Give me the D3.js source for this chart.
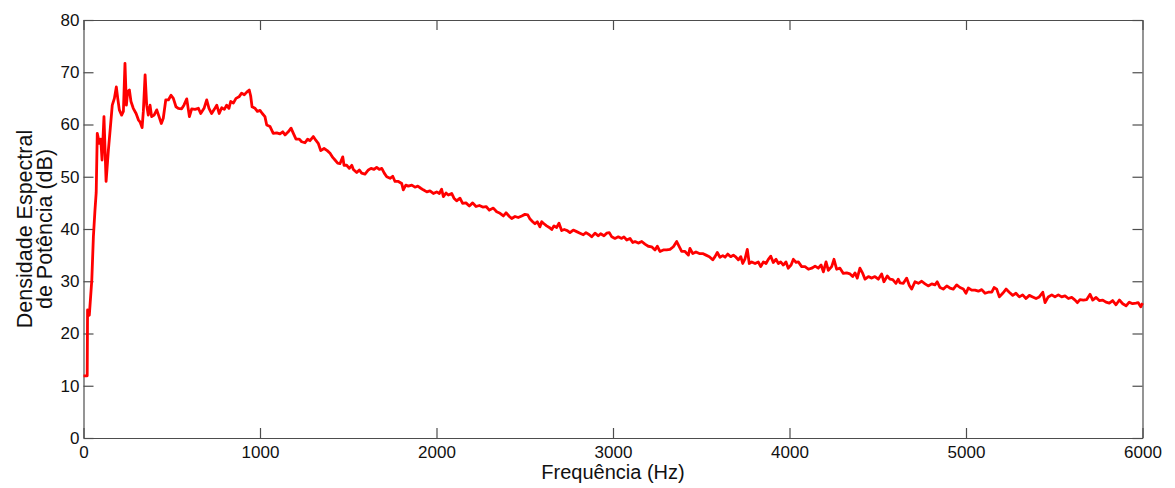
<!DOCTYPE html>
<html>
<head>
<meta charset="utf-8">
<script src="https://cdn.jsdelivr.net/npm/d3@7"></script>
<style>
  html, body { margin: 0; padding: 0; background: #fff; }
  svg { display: block; font-family: "Liberation Sans", Arial, sans-serif; }
</style>
</head>
<body>
<svg id="chart" width="1175" height="488"></svg>
<script>
// ---- data ----
const freqHz = [
  0, 21, 23, 33, 47, 56, 65, 72,
  78, 90, 98, 105, 116, 128, 141, 150, 163, 175, 186, 194, 203, 216, 226, 235, 243, 250, 260, 269, 282, 298,
  311, 320, 332, 339, 349, 358, 367, 377, 386, 400, 415, 428, 441, 452, 466, 481, 496, 509, 524, 537, 556,
  569, 585, 600, 613, 632, 651, 664, 683, 698, 711, 726, 741, 755, 769, 783, 798, 811, 824, 834, 849, 864,
  881, 896, 911, 925, 939, 947, 955, 972, 985, 1000, 1013, 1028, 1038,
  1057, 1075, 1095, 1113, 1129, 1142, 1160, 1176, 1189, 1204, 1223, 1236, 1255, 1270, 1283, 1302, 1316,
  1330, 1344, 1363, 1381, 1397, 1412, 1425, 1440, 1453, 1469, 1476, 1491, 1506, 1520, 1529, 1548, 1563,
  1576, 1595, 1614, 1629, 1646, 1661, 1676, 1690, 1704, 1718, 1737, 1752, 1765, 1784, 1803, 1812, 1826,
  1840, 1860, 1878, 1894, 1911, 1925, 1945, 1963, 1982, 2001, 2016, 2029, 2039, 2054, 2067, 2086, 2099,
  2114, 2133, 2148, 2167, 2186, 2205, 2224, 2243, 2262, 2281, 2299,
  2303, 2322, 2341, 2360, 2379, 2394, 2413, 2426, 2445, 2463, 2483, 2501, 2517, 2530, 2545, 2558, 2571,
  2586, 2596, 2609, 2624, 2639, 2653, 2666, 2681, 2694, 2709, 2724, 2741, 2756, 2775, 2794, 2813, 2832,
  2847, 2866, 2879, 2898, 2917, 2930, 2949, 2964, 2979, 2993, 3011, 3030, 3049, 3062, 3078, 3096, 3112,
  3125, 3143, 3163, 3181, 3200, 3219, 3238, 3251, 3266, 3285, 3304, 3323, 3342, 3361, 3376, 3389, 3408, 3427,
  3436, 3452, 3470, 3489, 3508, 3527, 3546, 3565, 3578, 3591, 3606, 3622, 3635, 3650, 3667, 3682, 3697,
  3710, 3724, 3735, 3748, 3761, 3772, 3786, 3805, 3823, 3837, 3852, 3867, 3880, 3894, 3908, 3924, 3937,
  3950, 3965, 3980, 3993, 4009, 4022, 4037, 4050, 4069, 4088, 4107, 4126, 4145, 4163, 4179, 4192, 4207,
  4220, 4239, 4252, 4267, 4286, 4305, 4324, 4343, 4358, 4371, 4384, 4399, 4415, 4428, 4447, 4466, 4484,
  4503, 4522, 4535, 4554, 4569, 4585, 4603, 4616,
  4626, 4645, 4664, 4679, 4692, 4711, 4730, 4749, 4768, 4786, 4806, 4824, 4837, 4853, 4871, 4891, 4909,
  4928, 4947, 4966, 4985, 5000, 5013, 5032, 5051, 5070, 5089, 5108, 5126, 5146, 5159, 5174, 5189, 5208,
  5227, 5245, 5265, 5283, 5302, 5321, 5340, 5359, 5378, 5397, 5415, 5435, 5448, 5466, 5486, 5504, 5523,
  5542, 5561, 5580, 5599, 5618, 5631, 5646, 5665, 5684, 5703, 5718, 5737, 5755, 5775, 5793, 5812, 5831,
  5850, 5869, 5888, 5907, 5925, 5944, 5963, 5976, 5990, 6000
];
const psdDb = [
  11.9, 11.9, 24.5, 23.5, 30.2, 38.5, 43.6, 47.0,
  58.3, 56.4, 57.2, 53.2, 61.5, 49.1, 55.1, 58.6, 63.7, 65.0, 67.2, 65.0, 62.8, 61.8, 62.5, 71.7, 63.7, 66.3, 66.6, 64.4, 63.1, 62.1,
  60.9, 60.5, 59.4, 62.5, 69.5, 63.7, 61.8, 63.7, 61.5, 61.8, 62.8, 61.5, 60.2, 61.2, 64.7, 64.7, 65.6, 65.0, 63.4, 63.1, 63.0,
  63.7, 64.9, 61.5, 63.0, 62.9, 63.1, 62.1, 63.1, 64.7, 63.1, 62.1, 62.9, 63.7, 62.1, 63.2, 62.9, 63.7, 63.1, 64.4, 64.1, 65.0,
  65.3, 66.0, 65.7, 66.2, 66.6, 65.5, 63.4, 63.1, 62.5, 62.7, 62.1, 61.5, 59.9,
  59.6, 58.3, 58.4, 58.2, 58.6, 58.0, 58.6, 59.3, 58.3, 57.2, 57.2, 56.7, 56.5, 57.2, 56.9, 57.7, 57.0,
  56.4, 55.0, 55.4, 55.0, 54.5, 53.7, 53.2, 52.6, 52.5, 53.8, 52.2, 52.2, 51.6, 52.2, 51.4, 50.8, 51.3,
  50.7, 50.5, 51.3, 51.6, 51.4, 51.8, 51.4, 51.6, 50.7, 50.0, 49.7, 50.1, 49.1, 49.1, 48.7, 47.5, 48.4,
  48.2, 48.4, 48.0, 48.2, 47.8, 47.5, 47.1, 47.3, 46.8, 47.1, 46.8, 47.6, 46.2, 46.9, 46.5, 46.8, 45.9,
  45.4, 45.9, 44.9, 45.0, 44.4, 45.0, 44.3, 44.5, 44.2, 44.3, 43.6,
  43.7, 44.0, 43.3, 43.0, 42.5, 43.1, 42.4, 42.0, 42.4, 42.2, 42.5, 42.8, 42.7, 41.9, 41.4, 41.0, 41.4,
  40.4, 41.4, 41.0, 40.6, 40.3, 39.9, 40.6, 40.3, 41.1, 39.7, 39.9, 39.7, 39.3, 39.8, 39.5, 39.2, 38.9,
  39.3, 38.9, 38.5, 39.2, 38.7, 39.1, 38.7, 39.2, 39.3, 38.5, 38.2, 38.5, 38.2, 38.5, 37.9, 38.2, 37.4,
  37.6, 37.3, 37.6, 37.1, 36.7, 36.6, 36.0, 36.7, 35.7, 36.0, 36.0, 36.1, 36.6, 37.6, 36.6, 35.7, 35.7, 35.0,
  36.3, 35.3, 35.6, 35.3, 35.3, 35.0, 34.7, 34.1, 34.7, 35.5, 34.6, 34.9, 34.6, 35.2, 34.7, 35.0, 34.6,
  34.1, 34.7, 33.4, 34.3, 36.1, 33.4, 33.7, 33.4, 33.7, 32.8, 33.7, 33.4, 34.2, 34.8, 33.6, 34.2, 33.4,
  33.7, 33.1, 33.7, 32.5, 33.1, 34.2, 33.6, 33.7, 32.8, 32.8, 32.3, 32.5, 32.9, 32.5, 33.1, 31.8, 33.7,
  32.1, 32.8, 34.2, 32.3, 32.5, 31.5, 31.6, 31.4, 30.9, 31.6, 30.6, 32.5, 31.5, 30.4, 30.9, 30.6, 30.9,
  30.4, 31.4, 29.9, 31.0, 30.4, 30.3, 29.6, 30.4,
  29.7, 29.6, 30.6, 29.2, 28.5, 29.9, 29.6, 30.0, 29.5, 29.1, 29.5, 29.3, 29.9, 28.8, 28.5, 29.1, 28.7,
  28.5, 29.3, 28.8, 28.5, 27.7, 28.7, 28.3, 28.3, 28.1, 28.4, 27.7, 27.9, 27.9, 28.8, 28.5, 27.0, 27.7,
  28.5, 27.9, 27.3, 27.7, 27.0, 27.4, 26.7, 27.3, 27.0, 26.7, 27.0, 27.9, 25.9, 27.0, 27.4, 27.0, 27.4,
  27.0, 27.2, 26.7, 26.9, 26.4, 25.9, 26.5, 26.4, 26.5, 27.5, 26.4, 26.9, 26.3, 26.4, 26.0, 25.8, 26.3,
  25.5, 26.4, 25.7, 25.3, 26.0, 25.7, 25.8, 25.9, 25.1, 25.8
];
const xTicks = [0, 1000, 2000, 3000, 4000, 5000, 6000];
const yTicks = [0, 10, 20, 30, 40, 50, 60, 70, 80];
const xLabel = "Frequência (Hz)";
const yLabelLines = ["Densidade Espectral", "de Potência (dB)"];

// ---- layout ----
const svg = d3.select("#chart");
const plotL = 83.5, plotR = 1142.5, plotT = 20, plotB = 438;

const x = d3.scaleLinear().domain([0, 6000]).range([plotL, plotR]);
const y = d3.scaleLinear().domain([0, 80]).range([plotB, plotT]);

const axisColor = "#4d4d4d";
const textColor = "#111";
const tickFont = 17;
const labelFont = 20;
const yLabelFont = 21.5;

function styleAxis(g, showText) {
  g.select(".domain").attr("stroke", axisColor).attr("stroke-width", 1.2);
  g.selectAll(".tick line").attr("stroke", axisColor).attr("stroke-width", 1.2);
  g.selectAll(".tick text")
    .attr("fill", textColor)
    .style("font-size", tickFont + "px")
    .style("font-family", '"Liberation Sans", Arial, sans-serif');
  if (!showText) g.selectAll(".tick text").remove();
}

// bottom axis
svg.append("g")
  .attr("transform", `translate(0,${plotB})`)
  .call(d3.axisBottom(x).tickValues(xTicks).tickFormat(d3.format("d")).tickSize(-10).tickSizeOuter(0).tickPadding(8))
  .call(g => styleAxis(g, true));

// top axis
svg.append("g")
  .attr("transform", `translate(0,${plotT})`)
  .call(d3.axisTop(x).tickValues(xTicks).tickSize(-10).tickSizeOuter(0))
  .call(g => styleAxis(g, false));

// left axis
svg.append("g")
  .attr("transform", `translate(${plotL},0)`)
  .call(d3.axisLeft(y).tickValues(yTicks).tickFormat(d3.format("d")).tickSize(-10).tickSizeOuter(0).tickPadding(4))
  .call(g => styleAxis(g, true));

// right axis
svg.append("g")
  .attr("transform", `translate(${plotR},0)`)
  .call(d3.axisRight(y).tickValues(yTicks).tickSize(-10).tickSizeOuter(0))
  .call(g => styleAxis(g, false));

// data line
const n = Math.min(freqHz.length, psdDb.length);
const data = d3.range(n).map(i => ({ f: freqHz[i], v: psdDb[i] }));
svg.append("path")
  .datum(data)
  .attr("fill", "none")
  .attr("stroke", "#ff0000")
  .attr("stroke-width", 2.8)
  .attr("stroke-linejoin", "round")
  .attr("d", d3.line().defined(d => d.v != null && !isNaN(d.v)).x(d => x(d.f)).y(d => y(d.v)));

// x label
svg.append("text")
  .attr("x", (plotL + plotR) / 2)
  .attr("y", 479)
  .attr("text-anchor", "middle")
  .attr("fill", textColor)
  .style("font-size", labelFont + "px")
  .text(xLabel);

// y label (two lines, rotated)
const yl = svg.append("text")
  .attr("transform", `translate(32,${(plotT + plotB) / 2}) rotate(-90)`)
  .attr("text-anchor", "middle")
  .attr("fill", textColor)
  .style("font-size", yLabelFont + "px");
yl.append("tspan").attr("x", 0).attr("y", 0).text(yLabelLines[0]);
yl.append("tspan").attr("x", 0).attr("y", 20).text(yLabelLines[1]);
</script>
</body>
</html>
